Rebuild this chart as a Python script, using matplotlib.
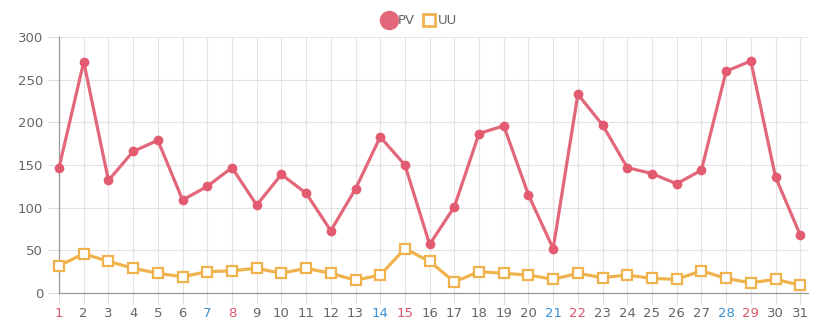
import matplotlib
matplotlib.use("Agg")
import matplotlib.pyplot as plt
from matplotlib.lines import Line2D

days = list(range(1, 32))
pv = [147, 271, 132, 166, 179, 109, 125, 147, 103, 139, 117, 73, 122, 183, 150, 57,
      101, 187, 196, 115, 52, 233, 197, 147, 140, 128, 144, 260, 272, 136, 68]
uu = [32, 46, 37, 29, 23, 19, 25, 26, 29, 23, 29, 23, 15, 21, 52, 37,
      13, 25, 23, 21, 16, 23, 18, 21, 17, 16, 26, 17, 12, 16, 9]
sundays = [1, 8, 15, 22, 29]
saturdays = [7, 14, 21, 28]

pv_color = "#e2677a"
uu_color = "#f0b24d"

plt.rcParams['font.family'] = ['DejaVu Sans']
fig = plt.figure(figsize=(8.28, 3.23), dpi=100)
ax = fig.add_axes([0.0713, 0.093, 0.905, 0.792])

ax.plot(days, pv, color=pv_color, lw=2.3, marker='o', ms=6,
        mfc="#e25b70", mec="#e25b70", zorder=3, clip_on=False)
ax.plot(days, uu, color=uu_color, lw=2.3, marker='s', ms=6.5,
        mfc="white", mec=uu_color, mew=1.6, zorder=3, clip_on=False)

ax.set_xlim(1, 31.33)
ax.set_ylim(0, 300)
ax.set_yticks(range(0, 301, 50))
ax.set_xticks(days)
ax.set_xticklabels([str(d) for d in days])
ax.grid(True, color="#e3e3e3", lw=0.8)
ax.set_axisbelow(True)
for s in ['top', 'right']:
    ax.spines[s].set_visible(False)
for s in ['left', 'bottom']:
    ax.spines[s].set_color("#999999")
    ax.spines[s].set_linewidth(0.9)
ax.tick_params(axis='both', colors="#dddddd", labelcolor="#666666",
               labelsize=9.5, length=8, width=0.8)
ax.tick_params(axis='x', pad=2)
for lbl in ax.get_xticklabels():
    d = int(lbl.get_text())
    if d in sundays:
        lbl.set_color("#d9556a")
    elif d in saturdays:
        lbl.set_color("#3a8fd0")

handles = [Line2D([], [], ls='none', marker='o', ms=13, mfc=pv_color, mec=pv_color),
           Line2D([], [], ls='none', marker='s', ms=9, mfc='white', mec=uu_color, mew=2)]
fig.legend(handles, ['PV', 'UU'], loc='center', bbox_to_anchor=(0.507, 0.935),
           ncol=2, frameon=False, fontsize=9.5, handlelength=1.0,
           handletextpad=0.15, columnspacing=0.6, labelcolor="#666666")

fig.savefig("out.png", dpi=100)
